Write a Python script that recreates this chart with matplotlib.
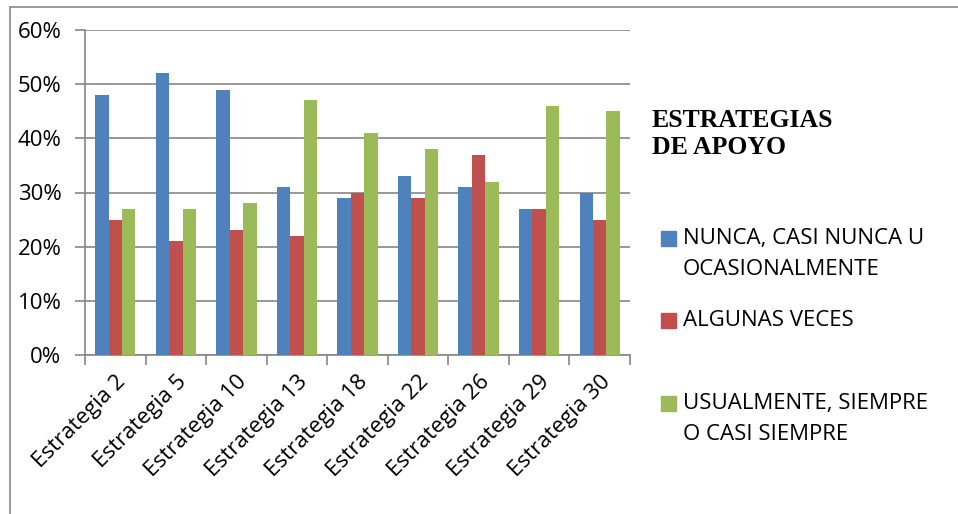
import matplotlib.pyplot as plt
import matplotlib.patches as mpatches
import numpy as np

categorias = ['Estrategia 2', 'Estrategia 5', 'Estrategia 10', 'Estrategia 13', 'Estrategia 18',
              'Estrategia 22', 'Estrategia 26', 'Estrategia 29', 'Estrategia 30']
nunca = [48, 52, 49, 31, 29, 33, 31, 27, 30]
algunas = [25, 21, 23, 22, 30, 29, 37, 27, 25]
usualmente = [27, 27, 28, 47, 41, 38, 32, 46, 45]
series = ['NUNCA, CASI NUNCA U\nOCASIONALMENTE', 'ALGUNAS VECES', 'USUALMENTE, SIEMPRE\nO CASI SIEMPRE']
colores = ['#4f81bd', '#c0504d', '#9bbb59']

plt.rcParams['font.family'] = ['Open Sans', 'DejaVu Sans']

fig = plt.figure(figsize=(9.58, 5.14), dpi=100)
ax = fig.add_axes([85 / 958, 1 - 355 / 514, 545 / 958, 325 / 514])

x = np.arange(len(categorias))
w = 0.222
for i, (vals, c, lab) in enumerate(zip([nunca, algunas, usualmente], colores, series)):
    ax.bar(x + (i - 1) * w, vals, w, color=c, label=lab, zorder=3)

ax.set_xlim(-0.5, len(categorias) - 0.5)
ax.set_ylim(0, 60)
ax.set_yticks(range(0, 61, 10))
ax.set_yticklabels(['%d%%' % v for v in range(0, 61, 10)], fontsize=16)
ax.yaxis.grid(True, color='#868686', linewidth=1.2, zorder=0)
ax.set_xticks(np.arange(-0.5, len(categorias), 1))
ax.set_xticklabels([])
ax.set_xticks(x, minor=True)
ax.set_xticklabels(categorias, minor=True, rotation=45, ha='right', rotation_mode='anchor', fontsize=16)
ax.tick_params(axis='x', which='minor', length=0, pad=12)
ax.tick_params(axis='x', which='major', length=7, color='#868686', width=1.2)
ax.tick_params(axis='y', length=7, color='#868686', width=1.2, pad=10)
for s in ['top', 'right']:
    ax.spines[s].set_visible(False)
for s in ['left', 'bottom']:
    ax.spines[s].set_color('#868686')
    ax.spines[s].set_linewidth(1.2)

fig.text(652 / 958, 1 - 134 / 514, 'ESTRATEGIAS\nDE APOYO', fontsize=18.5, fontweight='bold',
         family='Liberation Serif', va='center', linespacing=1.22)

# leyenda manual
primera_linea = [238, 320, 403]
for c, lab, y in zip(colores, series, primera_linea):
    fig.add_artist(mpatches.Rectangle((661 / 958, 1 - (y + 7.5) / 514), 15 / 958, 15 / 514,
                                      transform=fig.transFigure, color=c))
    fig.text(683 / 958, 1 - (y - 10) / 514, lab, fontsize=16, va='top', linespacing=1.6)

fig.add_artist(mpatches.Rectangle((10 / 958, -0.1), 1.2, 1.1 - 7 / 514, transform=fig.transFigure,
                                  fill=False, edgecolor='#868686', linewidth=1.2))

fig.savefig('out.png', dpi=100)
